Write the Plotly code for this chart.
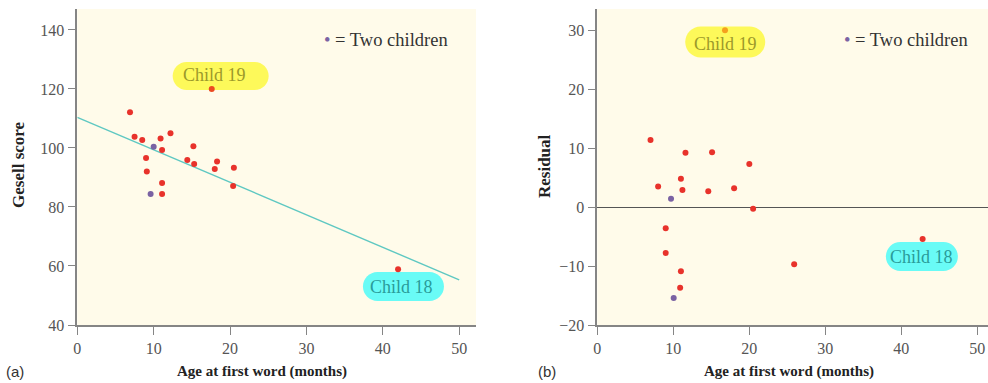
import plotly.graph_objects as go

# ---------------- data: panel (a) ----------------
age_a = [6.9, 7.5, 8.5, 9.0, 9.1, 10.9, 11.1, 11.1, 11.1, 12.2, 14.4, 15.2, 15.3,
         18.0, 18.3, 20.4, 20.5]
score_a = [112.1, 103.8, 102.7, 96.6, 92.0, 103.2, 99.3, 88.1, 84.4, 105.0, 95.9,
           100.6, 94.6, 92.9, 95.4, 87.1, 93.3]
two_age_a = [9.6, 10.0]
two_score_a = [84.4, 100.4]
child19_a = (17.6, 120.0)
child18_a = (42.0, 58.9)
fit_x = [0, 50]
fit_y = [110.4, 55.3]

# ---------------- data: panel (b) ----------------
age_b = [7.0, 11.6, 15.1, 20.0, 8.0, 11.0, 11.2, 14.6, 18.0, 20.5, 9.0, 9.0,
         11.0, 10.9, 25.9]
resid_b = [11.4, 9.2, 9.3, 7.3, 3.5, 4.8, 2.9, 2.7, 3.2, -0.3, -3.6, -7.8,
           -10.9, -13.7, -9.7]
two_age_b = [9.7, 10.05]
two_resid_b = [1.4, -15.4]
child19_b = (16.8, 30.0)
child18_b = (42.8, -5.4)

x_ticks = [0, 10, 20, 30, 40, 50]
y_ticks_a = [40, 60, 80, 100, 120, 140]
y_ticks_b = [-20, -10, 0, 10, 20, 30]

# ---------------- styles ----------------
RED = "#e8322b"
PURPLE = "#7a62a3"
ORANGE = "#f5a01e"
TEAL = "#5fc8c2"
BG = "#fffbea"
AXIS = "#858585"
SERIF = "Liberation Serif"
W, H = 988, 383

fig = go.Figure()

msize = 6
fig.add_trace(go.Scatter(x=fit_x, y=fit_y, mode="lines", line=dict(color=TEAL, width=1.4),
                         xaxis="x", yaxis="y", hoverinfo="skip"))
fig.add_trace(go.Scatter(x=age_a, y=score_a, mode="markers",
                         marker=dict(color=RED, size=msize), xaxis="x", yaxis="y"))
fig.add_trace(go.Scatter(x=[child19_a[0], child18_a[0]], y=[child19_a[1], child18_a[1]],
                         mode="markers", marker=dict(color=["#ec4a22", RED], size=msize),
                         xaxis="x", yaxis="y"))
fig.add_trace(go.Scatter(x=two_age_a, y=two_score_a, mode="markers",
                         marker=dict(color=PURPLE, size=msize), xaxis="x", yaxis="y"))

fig.add_trace(go.Scatter(x=age_b, y=resid_b, mode="markers",
                         marker=dict(color=RED, size=msize), xaxis="x2", yaxis="y2"))
fig.add_trace(go.Scatter(x=[child18_b[0]], y=[child18_b[1]], mode="markers",
                         marker=dict(color=RED, size=msize), xaxis="x2", yaxis="y2"))
fig.add_trace(go.Scatter(x=[child19_b[0]], y=[child19_b[1]], mode="markers",
                         marker=dict(color=ORANGE, size=msize), xaxis="x2", yaxis="y2"))
fig.add_trace(go.Scatter(x=two_age_b, y=two_resid_b, mode="markers",
                         marker=dict(color=PURPLE, size=msize), xaxis="x2", yaxis="y2"))

ydom = [1 - 325 / H, 1 - 9 / H]
axis_common = dict(showline=True, linecolor=AXIS, linewidth=1.5, ticks="outside",
                   ticklen=8, tickcolor=AXIS, tickwidth=1.2, showgrid=False,
                   automargin=False,
                   tickfont=dict(family=SERIF, size=16, color="#555555"))

fig.update_layout(
    width=W, height=H, margin=dict(l=0, r=0, t=0, b=0, autoexpand=False),
    paper_bgcolor="white", plot_bgcolor=BG, showlegend=False,
    xaxis=dict(domain=[77.3 / W, 476 / W], range=[0, 52.2], tickvals=x_ticks,
               zeroline=False, anchor="y", **axis_common),
    yaxis=dict(domain=ydom, range=[40, 147.1], tickvals=y_ticks_a, zeroline=False,
               anchor="x", **axis_common),
    xaxis2=dict(domain=[597.3 / W, 1.0], range=[0, 51.4], tickvals=x_ticks,
                zeroline=False, anchor="y2", **axis_common),
    yaxis2=dict(domain=ydom, range=[-20, 33.6], tickvals=y_ticks_b, zeroline=True,
                zerolinecolor="#555555", zerolinewidth=1.2, anchor="x2", **axis_common),
)


def pill(xref, yref, cx, cy, w, h, color):
    r = h / 2
    k = 0.5523 * r
    a = w / 2 - r
    path = (f"M {-a},{-r} L {a},{-r} "
            f"C {a + k},{-r} {a + r},{-k} {a + r},0 "
            f"C {a + r},{k} {a + k},{r} {a},{r} "
            f"L {-a},{r} "
            f"C {-a - k},{r} {-a - r},{k} {-a - r},0 "
            f"C {-a - r},{-k} {-a - k},{-r} {-a},{-r} Z")
    fig.add_shape(type="path", path=path, xref=xref, yref=yref,
                  xsizemode="pixel", ysizemode="pixel", xanchor=cx, yanchor=cy,
                  fillcolor=color, line=dict(width=0), layer="below")


YEL = "#fdf95a"
CYA = "#69fbf6"
pill("x", "y", 18.77, 124.4, 96, 28, YEL)
pill("x", "y", 42.7, 53.05, 81, 29, CYA)
pill("x2", "y2", 16.83, 28.0, 80, 31, YEL)
pill("x2", "y2", 42.7, -8.39, 72, 29, CYA)

lab_font19 = dict(family=SERIF, size=18, color="#9c9a2a")
lab_font18 = dict(family=SERIF, size=18, color="#2a9c9a")
fig.add_annotation(x=17.9, y=124.6, xref="x", yref="y", text="Child 19", showarrow=False,
                   font=lab_font19)
fig.add_annotation(x=42.5, y=52.9, xref="x", yref="y", text="Child 18", showarrow=False,
                   font=lab_font18)
fig.add_annotation(x=16.9, y=27.6, xref="x2", yref="y2", text="Child 19", showarrow=False,
                   font=lab_font19)
fig.add_annotation(x=42.7, y=-8.4, xref="x2", yref="y2", text="Child 18", showarrow=False,
                   font=lab_font18)

legend_text = f"<span style='color:{PURPLE}'>•</span> = Two children"
fig.add_annotation(x=32.1, y=136.6, xref="x", yref="y", text=legend_text, showarrow=False,
                   xanchor="left", font=dict(family=SERIF, size=18.5, color="#333333"))
fig.add_annotation(x=32.2, y=28.4, xref="x2", yref="y2", text=legend_text, showarrow=False,
                   xanchor="left", font=dict(family=SERIF, size=18.5, color="#333333"))

title_font = dict(family=SERIF, size=15, color="#222222")
for cx, txt in [(262, "<b>Age at first word (months)</b>"), (789, "<b>Age at first word (months)</b>")]:
    fig.add_annotation(x=cx / W, y=1 - 371 / H, xref="paper", yref="paper", text=txt,
                       xanchor="center", yanchor="middle",
                       showarrow=False, font=title_font)
for cx, cy, txt in [(18, 165, "<b>Gesell score</b>"), (545, 166, "<b>Residual</b>")]:
    fig.add_annotation(x=cx / W, y=1 - cy / H, xref="paper", yref="paper", text=txt,
                       xanchor="center", yanchor="middle",
                       showarrow=False, textangle=-90,
                       font=dict(family=SERIF, size=17, color="#222222"))
for cx, txt in [(15, "(a)"), (547, "(b)")]:
    fig.add_annotation(x=cx / W, y=1 - 371 / H, xref="paper", yref="paper", text=txt,
                       xanchor="center", yanchor="middle",
                       showarrow=False, font=dict(family="Liberation Sans", size=15, color="#333333"))

fig.write_html("out.html")
